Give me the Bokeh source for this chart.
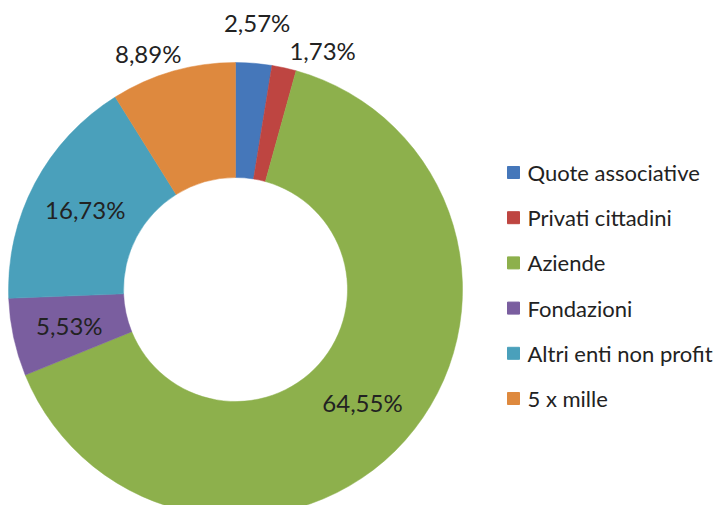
import math
from bokeh.plotting import figure
from bokeh.models import Range1d, ColumnDataSource
from bokeh.core.properties import value
from bokeh.embed import file_html
from bokeh.resources import INLINE

# ---- data ----
categories = ["Quote associative", "Privati cittadini", "Aziende",
              "Fondazioni", "Altri enti non profit", "5 x mille"]
shares = [2.57, 1.73, 64.55, 5.53, 16.73, 8.89]
labels = ["2,57%", "1,73%", "64,55%", "5,53%", "16,73%", "8,89%"]
colors = ["#4577BA", "#BE4541", "#8DB04C", "#7A5E9F", "#4AA0BB", "#DE893E"]

# ---- layout / style ----
W, H = 722, 505
CX_S, CY_S = 235, 289          # donut centre in picture pixels
R_OUT, R_IN = 227, 112
label_r = [268, 262, 170, 170, 170, 255]
label_dx = [0, 31, 0, 0, 0, -17]
label_dy = [0, 17, 0, 0, 0, 9]
FONT = "Lato"

def dx(sx):
    return sx

def dy(sy):
    return H - sy

p = figure(width=W, height=H, output_backend="svg", toolbar_location=None,
           x_range=Range1d(0, W), y_range=Range1d(0, H), min_border=0)
p.axis.visible = False
p.grid.visible = False
p.outline_line_color = None
p.background_fill_color = "white"
p.border_fill_color = "white"

cx, cy = dx(CX_S), dy(CY_S)
total = sum(shares)
starts, ends, mids = [], [], []
c = 0.0
for s in shares:
    f0 = c / total
    c += s
    f1 = c / total
    starts.append(math.pi / 2 - 2 * math.pi * f0)
    ends.append(math.pi / 2 - 2 * math.pi * f1)
    mids.append(math.pi / 2 - 2 * math.pi * (f0 + f1) / 2)

src = ColumnDataSource(dict(start=starts, end=ends, color=colors,
                            cat=categories))
p.annular_wedge(x=cx, y=cy, inner_radius=R_IN, outer_radius=R_OUT,
                start_angle="start", end_angle="end", direction="clock",
                fill_color="color", line_color="color", line_width=0.5,
                source=src)

lx = [cx + r * math.cos(a) for r, a in zip(label_r, mids)]
ly = [cy + r * math.sin(a) for r, a in zip(label_r, mids)]
lsrc = ColumnDataSource(dict(x=lx, y=ly, t=labels, xo=label_dx, yo=label_dy))
p.text(x="x", y="y", text="t", x_offset="xo", y_offset="yo", source=lsrc,
       text_font=value(FONT), text_font_size="24px", text_color="#222222",
       text_align="center", text_baseline="middle")

# ---- legend ----
LEG_X, LEG_Y0, LEG_STEP = 513, 172, 45.2
gx = [dx(LEG_X)] * len(categories)
gy = [dy(LEG_Y0 + i * LEG_STEP) for i in range(len(categories))]
gsrc = ColumnDataSource(dict(x=gx, y=gy, c=colors, t=categories,
                             tx=[dx(LEG_X + 14)] * len(categories)))
p.scatter(x="x", y="y", marker="square", size=12, fill_color="c",
          line_color="c", source=gsrc)
p.text(x="tx", y="y", text="t", source=gsrc, text_font=value(FONT),
       text_font_size="22px", text_color="#222222", text_align="left",
       text_baseline="middle")

open("out.html", "w").write(file_html(p, INLINE))
